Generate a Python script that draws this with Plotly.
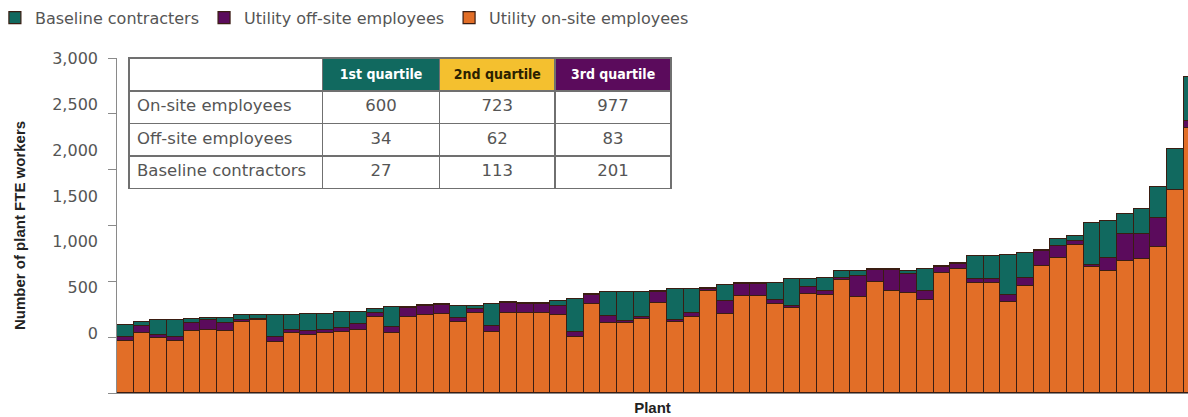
import plotly.graph_objects as go

# Plants ranked by total staffing (the last one runs off the right edge)
plants = list(range(1, 66))

onsite = [470, 536, 491, 470, 551, 565, 557, 640, 655, 461,
          536, 521, 536, 545, 560, 680, 536, 685, 700, 710,
          640, 716, 549, 716, 716, 716, 700, 500, 800, 630,
          631, 662, 806, 640, 680, 916, 710, 865, 865, 800,
          760, 886, 880, 1008, 860, 990, 910, 895, 835, 1075,
          1111, 985, 985, 811, 955, 1134, 1210, 1329, 1129, 1089,
          1179, 1201, 1308, 1817, 2377]
offsite = [36, 68, 30, 30, 75, 90, 69, 14, 10, 45,
           24, 30, 24, 36, 60, 36, 54, 75, 75, 80,
           30, 36, 48, 90, 80, 80, 80, 45, 75, 63,
           10, 18, 95, 10, 36, 12, 111, 111, 111, 30,
           15, 60, 30, 22, 185, 108, 189, 171, 75, 50,
           45, 39, 35, 69, 75, 135, 104, 30, 21, 120,
           249, 227, 260, 5, 59]
contractors = [99, 30, 129, 150, 39, 20, 45, 45, 35, 189,
               135, 159, 150, 144, 105, 36, 180, 10, 15, 10,
               105, 27, 200, 10, 10, 10, 40, 300, 15, 215,
               264, 225, 15, 282, 216, 12, 144, 10, 10, 159,
               246, 75, 120, 60, 45, 10, 10, 23, 201, 15,
               10, 207, 210, 359, 225, 10, 66, 51, 374, 329,
               171, 216, 278, 359, 390]

# Quartile summary table
table_row_labels = ["On-site employees", "Off-site employees", "Baseline contractors"]
quartile_headers = ["1st quartile", "2nd quartile", "3rd quartile"]
q1_values = [600, 34, 27]
q2_values = [723, 62, 113]
q3_values = [977, 83, 201]

# Axis ticks: tick marks sit on the bar scale, the printed labels on their own scale
tick_values = [0, 500, 1000, 1500, 2000, 2500, 3000]
tick_labels = ["0", "500", "1,000", "1,500", "2,000", "2,500", "3,000"]
label_axis_range = [-644, 3000]

ORANGE = "#E26E27"
PURPLE = "#5B0B5C"
TEAL = "#11695F"
YELLOW = "#F4C02F"
EDGE = "#3A1D12"
GREY_TEXT = "#555555"
BODY_FONT = "DejaVu Sans, Verdana, sans-serif"
BOLD_FONT = "Liberation Sans, Arial, sans-serif"
NARROW_FONT = "DejaVu Sans Condensed, Liberation Sans Narrow, Arial Narrow, sans-serif"

fig = go.Figure()
for name, vals, col in [
    ("Utility on-site employees", onsite, ORANGE),
    ("Utility off-site employees", offsite, PURPLE),
    ("Baseline contracters", contractors, TEAL),
]:
    fig.add_trace(go.Bar(
        x=plants, y=vals, name=name,
        marker=dict(color=col, line=dict(color=EDGE, width=1.2)),
        hoverinfo="skip",
    ))

# Empty helper series so the label axis is laid out
fig.add_trace(go.Scatter(
    x=plants, y=[None] * len(plants), yaxis="y2",
    mode="lines", showlegend=False, hoverinfo="skip",
))

fig.add_trace(go.Table(
    domain=dict(x=[0.0112, 0.5182], y=[0.5, 1.0]),
    columnwidth=[194, 117, 116, 116],
    header=dict(
        values=[""] + [f"<b>{h}</b>" for h in quartile_headers],
        fill_color=["white", TEAL, YELLOW, PURPLE],
        font=dict(family=NARROW_FONT, size=14,
                  color=["white", "white", "#2B2000", "white"]),
        line=dict(color="#707070", width=1.5),
        align="center",
        height=33,
    ),
    cells=dict(
        values=[table_row_labels, q1_values, q2_values, q3_values],
        fill_color="white",
        font=dict(family=BODY_FONT, size=16.5, color=GREY_TEXT),
        line=dict(color="#707070", width=1.5),
        align=["left", "center", "center", "center"],
        height=32.5,
    ),
))

fig.update_layout(
    width=1188, height=417,
    margin=dict(l=117, r=0, t=58, b=24, autoexpand=False),
    barmode="stack", bargap=0,
    plot_bgcolor="white", paper_bgcolor="white",
    showlegend=True,
    legend=dict(
        orientation="h", traceorder="reversed",
        x=-0.114, xanchor="left", y=1.12, yanchor="middle",
        font=dict(family=BODY_FONT, size=16, color=GREY_TEXT),
        itemwidth=30, bgcolor="rgba(0,0,0,0)",
    ),
    xaxis=dict(
        range=[0.5, 64.75], showticklabels=False, ticks="",
        showgrid=False, zeroline=False,
        showline=True, linecolor="#8a8a8a", linewidth=1,
        title=dict(text="<b>Plant</b>", standoff=9,
                   font=dict(family=BOLD_FONT, size=15, color="#222222")),
        automargin=False,
    ),
    yaxis=dict(
        range=[0, 3000], tickvals=tick_values, showticklabels=False,
        ticks="outside", ticklen=8, tickcolor="#8a8a8a", tickwidth=1,
        showgrid=False, zeroline=False,
        showline=True, linecolor="#8a8a8a", linewidth=1,
        automargin=False,
    ),
    yaxis2=dict(
        overlaying="y", side="left", anchor="x",
        range=label_axis_range, tickvals=tick_values, ticktext=tick_labels,
        ticks="", showline=False, showgrid=False, zeroline=False,
        ticklabelstandoff=18,
        tickfont=dict(family=BODY_FONT, size=16, color=GREY_TEXT),
        title=dict(text="<b>Number of plant FTE workers</b>", standoff=22,
                   font=dict(family=BOLD_FONT, size=15, color="#222222")),
        automargin=False,
    ),
)

fig.write_html("out.html")
